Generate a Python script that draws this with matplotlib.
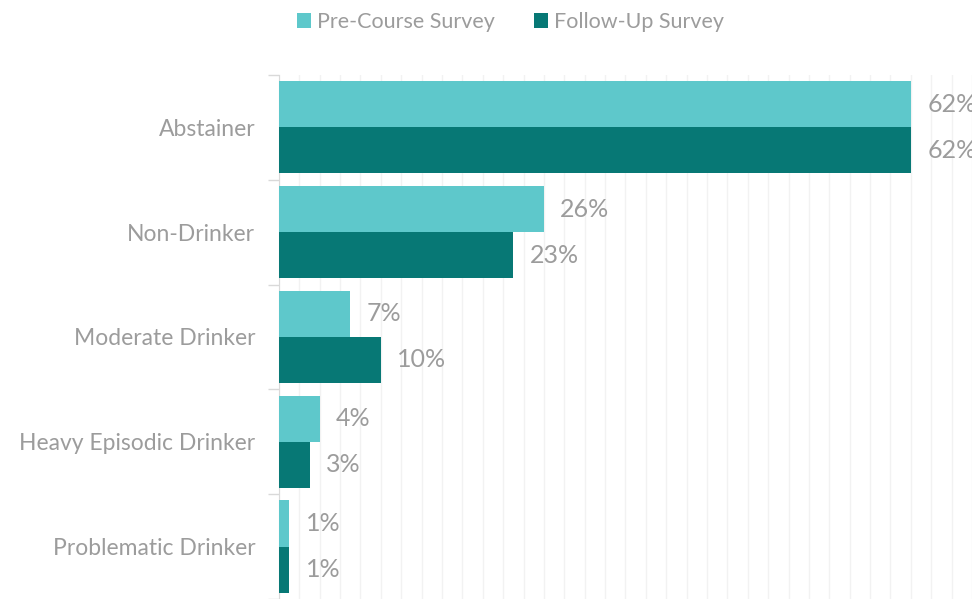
import numpy as np
import matplotlib.pyplot as plt
from matplotlib.ticker import MultipleLocator, FixedLocator

plt.rcParams['font.family'] = ['Lato', 'DejaVu Sans']

categories = ['Abstainer', 'Non-Drinker', 'Moderate Drinker',
              'Heavy Episodic Drinker', 'Problematic Drinker']
pre_course = [62, 26, 7, 4, 1]
follow_up = [62, 23, 10, 3, 1]

light = '#5EC8CB'
dark = '#077875'
grey_txt = '#9C9C9C'

fig = plt.figure(figsize=(9.72, 5.99), dpi=100)
ax = fig.add_axes([0.287, 0.0, 0.713, 0.875])

y = np.arange(len(categories))
h = 0.44
b1 = ax.barh(y - h / 2, pre_course, height=h, color=light, label='Pre-Course Survey', zorder=3)
b2 = ax.barh(y + h / 2, follow_up, height=h, color=dark, label='Follow-Up Survey', zorder=3)

for bars, vals in ((b1, pre_course), (b2, follow_up)):
    for bar, v in zip(bars, vals):
        ax.text(v + 1.6, bar.get_y() + bar.get_height() / 2, f'{v}%',
                va='center', ha='left', fontsize=18, color=grey_txt, clip_on=False)

ax.set_xlim(0, 68)
ax.set_ylim(len(categories) - 0.5, -0.5)

# vertical gridlines every 2%
ax.xaxis.set_major_locator(MultipleLocator(2))
ax.grid(axis='x', color='#F2F2F2', linewidth=1, zorder=0)
ax.tick_params(axis='x', length=0, labelbottom=False)

# category labels at centres, small separators at the group boundaries
ax.set_yticks(y)
ax.set_yticklabels(categories, fontsize=16.5, color=grey_txt)
ax.tick_params(axis='y', which='major', length=0, pad=17)
ax.yaxis.set_minor_locator(FixedLocator(np.arange(len(categories) + 1) - 0.5))
ax.tick_params(axis='y', which='minor', length=8, color='#D9D9D9', width=1)

for s in ('top', 'right', 'bottom'):
    ax.spines[s].set_visible(False)
ax.spines['left'].set_color('#D9D9D9')

fig.legend(handles=[b1, b2], loc='center', bbox_to_anchor=(0.525, 0.963), ncol=2,
           frameon=False, fontsize=15.5, labelcolor=grey_txt, handlelength=0.65,
           handleheight=0.65, handletextpad=0.3, columnspacing=1.8)

fig.savefig('out.png', dpi=100)
